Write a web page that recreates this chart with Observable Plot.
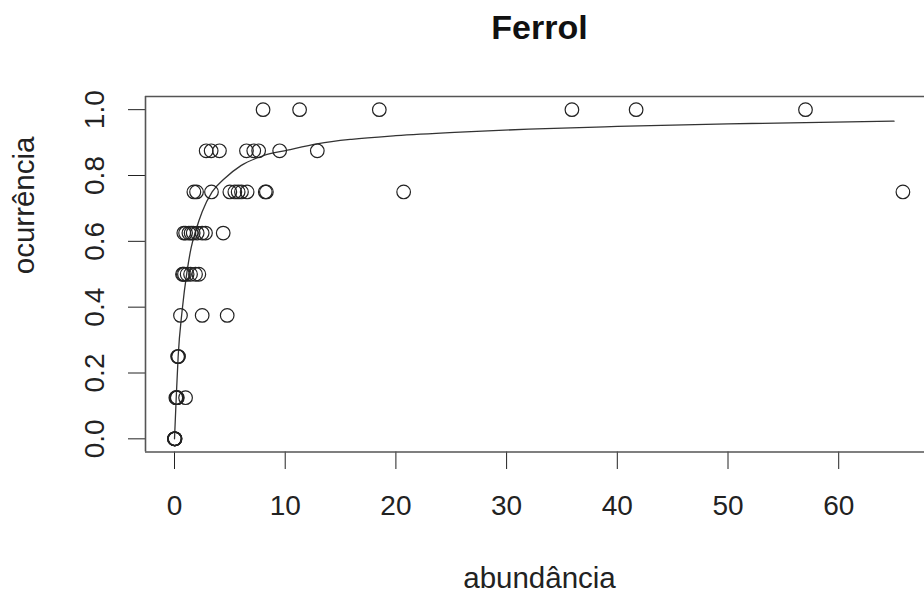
<!DOCTYPE html>
<html>
<head>
<meta charset="utf-8">
<script src="https://cdn.jsdelivr.net/npm/d3@7"></script>
<script src="https://cdn.jsdelivr.net/npm/@observablehq/plot@0.6"></script>
<style>
  html, body { margin: 0; padding: 0; background: white; }
  #chart { width: 924px; height: 597px; overflow: hidden; }
</style>
</head>
<body>
<div id="chart"></div>
<script>
// ---- data ----
const title = "Ferrol";
const xLabel = "abundância";
const yLabel = "ocurrência";
const xTicks = [0, 10, 20, 30, 40, 50, 60];
const yTicks = [0, 0.2, 0.4, 0.6, 0.8, 1.0];

// abundance values for each occurrence level (8 sites -> eighths)
const occ000 = [0, 0.01, 0.02, 0.03, 0.05, 0.0, 0.04];
const occ125 = [0.12, 0.18, 0.22, 0.25, 1.0];
const occ250 = [0.28, 0.33, 0.36];
const occ375 = [0.54, 2.5, 4.76];
const occ500 = [0.72, 0.8, 0.9, 1.14, 1.45, 1.9, 2.2];
const occ625 = [0.84, 1.0, 1.3, 1.5, 1.69, 2.05, 2.5, 2.8, 4.4];
const occ750 = [1.75, 1.99, 3.34, 5.0, 5.45, 5.75, 6.05, 6.56, 8.2, 8.3, 20.7, 65.8];
const occ875 = [2.86, 3.31, 4.06, 6.5, 7.16, 7.6, 9.5, 12.9];
const occ1000 = [8.0, 11.3, 18.5, 35.9, 41.7, 57.0];

// fitted curve, points
const curveX = [0, 0.15, 0.33, 0.69, 1.14, 1.5, 1.9, 2.5, 3.4, 4.5, 6, 8, 10.2, 13, 16, 20, 25.8, 32, 40, 50, 65];
const curveY = [0, 0.12, 0.25, 0.39, 0.51, 0.58, 0.63, 0.69, 0.75, 0.79, 0.83, 0.86, 0.877, 0.897, 0.91, 0.921, 0.932, 0.941, 0.949, 0.957, 0.965];

// scale domains (R-style 4% padding; right side cut off by the image)
const xDomain = [-2.62, 67.75];
const yDomain = [-0.04, 1.04];

// ---- build tables ----
const levels = [
  [0, occ000], [0.125, occ125], [0.25, occ250], [0.375, occ375], [0.5, occ500],
  [0.625, occ625], [0.75, occ750], [0.875, occ875], [1.0, occ1000]
];
const points = levels.flatMap(([y, xs]) => xs.map(x => ({x, y})));
const curve = curveX.map((x, i) => ({x, y: curveY[i]}));

const chart = Plot.plot({
  width: 924,
  height: 597,
  marginLeft: 145,
  marginRight: 0,
  marginTop: 96,
  marginBottom: 145.5,
  style: {
    fontFamily: "'Liberation Sans', Arial, Helvetica, sans-serif",
    fontSize: "28px",
    background: "white",
    color: "#222"
  },
  x: {
    domain: xDomain,
    ticks: xTicks,
    tickSize: 17.5,
    tickPadding: 25.5,
    tickFormat: d => String(d),
    label: null
  },
  y: {
    domain: yDomain,
    ticks: yTicks,
    tickSize: 17,
    tickPadding: 25,
    tickRotate: -90,
    tickFormat: d => d.toFixed(1),
    label: null
  },
  marks: [
    // box (right side lies outside the picture)
    Plot.ruleY([yDomain[0], yDomain[1]], {stroke: "#555", strokeWidth: 1.6}),
    Plot.ruleX([xDomain[0]], {stroke: "#555", strokeWidth: 1.6}),
    Plot.line(curve, {x: "x", y: "y", curve: "monotone-x", stroke: "#333", strokeWidth: 1.3}),
    Plot.dot(points, {x: "x", y: "y", r: 6.8, stroke: "#222", strokeWidth: 1.2, fill: "none"}),
    Plot.text([title], {frameAnchor: "top", dx: 4.5, dy: -58, lineAnchor: "bottom",
      fontSize: 34, fontWeight: "bold", fill: "#111"}),
    Plot.text([xLabel], {frameAnchor: "bottom", dx: 4.5, dy: 135.5, lineAnchor: "bottom",
      fontSize: 29.5, fill: "#222"}),
    Plot.text([yLabel], {frameAnchor: "left", dx: -112, rotate: -90, lineAnchor: "bottom",
      fontSize: 29.5, fill: "#222"})
  ]
});
document.getElementById("chart").appendChild(chart);
</script>
</body>
</html>
